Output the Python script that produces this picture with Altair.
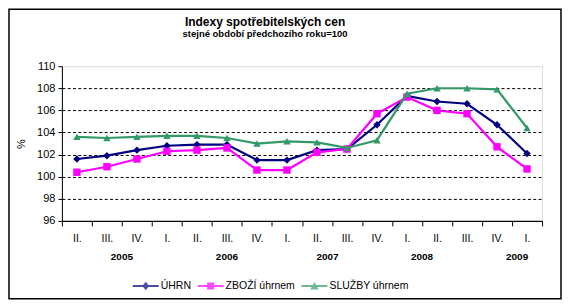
import altair as alt
import pandas as pd

quarters = ["II.", "III.", "IV.", "I.", "II.", "III.", "IV.", "I.",
            "II.", "III.", "IV.", "I.", "II.", "III.", "IV.", "I."]
series_names = ["ÚHRN", "ZBOŽÍ úhrnem", "SLUŽBY úhrnem"]
uhrn = [101.6, 101.9, 102.4, 102.8, 102.9, 102.9, 101.5, 101.5,
        102.4, 102.5, 104.7, 107.3, 106.8, 106.6, 104.7, 102.1]
zbozi = [100.4, 100.9, 101.6, 102.3, 102.4, 102.6, 100.6, 100.6,
         102.2, 102.5, 105.7, 107.2, 106.0, 105.7, 102.7, 100.7]
sluzby = [103.6, 103.5, 103.6, 103.7, 103.7, 103.5, 103.0, 103.2,
          103.1, 102.6, 103.3, 107.5, 108.0, 108.0, 107.9, 104.4]
years = ["2005", "2006", "2007", "2008", "2009"]
year_at = [1.5, 5.0, 8.35, 11.5, 14.67]   # category index under which each year label sits
y_ticks = [96, 98, 100, 102, 104, 106, 108, 110]
grid_ticks = [98, 100, 102, 104, 106, 108]

colors = ["#000080", "#FF00FF", "#339966"]
marker_shapes = ["diamond", "square", "triangle-up"]
legend_paths = [
    "M-1,-0.07H1V0.07H-1Z M0,-0.32L0.26,0L0,0.32L-0.26,0Z",
    "M-1,-0.07H1V0.07H-1Z M-0.27,-0.27H0.27V0.27H-0.27Z",
    "M-1,-0.07H1V0.07H-1Z M0,-0.3L0.32,0.26H-0.32Z",
]

rows = []
for name, vals in zip(series_names, [uhrn, zbozi, sluzby]):
    for i, v in enumerate(vals):
        rows.append({"idx": i, "q": quarters[i], "series": name, "value": v})
df = pd.DataFrame(rows)
ydf = pd.DataFrame({"year": years, "pos": year_at})

FONT = "Liberation Sans, Arial, sans-serif"
W, H = 481, 155

label_expr = "''"
for i in reversed(range(len(quarters))):
    label_expr = f"(round(datum.value) == {i} ? '{quarters[i]}' : {label_expr})"

xscale = alt.Scale(domain=[-0.5, 15.5], nice=False, zero=False)
yscale = alt.Scale(domain=[96, 110], nice=False, zero=False)

# category labels (no ticks) and category-boundary ticks (no labels)
x_labels = alt.Axis(
    values=list(range(len(quarters))), labelExpr=label_expr, orient="bottom",
    grid=False, title=None, ticks=False, domainColor="black", labelPadding=13,
    labelFontSize=10.5, labelFont=FONT, labelColor="black",
    labelFlush=False, labelOverlap=False,
)
x_ticks = alt.Axis(
    values=[i - 0.5 for i in range(len(quarters) + 1)], orient="bottom",
    grid=False, title=None, labels=False, tickSize=5,
    domainColor="black", tickColor="black",
)
y_axis = alt.Axis(
    values=y_ticks, title="%", titleFontSize=11, orient="left",
    titleFontWeight="normal", titleFont=FONT, titleColor="black", titlePadding=10,
    labelFontSize=11, labelFont=FONT, labelColor="black", tickSize=4, labelPadding=3,
    domainColor="black", tickColor="black", grid=False,
)
y_grid = alt.Axis(
    values=grid_ticks, grid=True, labels=False, ticks=False, domain=False, title=None,
    orient="left", gridColor="black", gridDash=[3, 2.3], gridWidth=1,
)

base = alt.Chart(df)

frame = alt.Chart(alt.Data(values=[{"k": 1}])).mark_rect(
    fillOpacity=0, stroke="black", strokeWidth=1.5
).encode(x=alt.value(-53), x2=alt.value(500), y=alt.value(-57), y2=alt.value(233))

layers = [frame]
for k, name in enumerate(series_names):
    sub = base.transform_filter(alt.datum.series == name)
    xa = x_labels if k == 0 else (x_ticks if k == 1 else None)
    ya = y_axis if k == 0 else (y_grid if k == 1 else None)
    line = sub.mark_line(color=colors[k], strokeWidth=2.2).encode(
        x=alt.X("idx:Q", scale=xscale, axis=xa),
        y=alt.Y("value:Q", scale=yscale, axis=ya),
    )
    pts = sub.mark_point(shape=marker_shapes[k], filled=True, color=colors[k],
                         size=55, opacity=1).encode(
        x=alt.X("idx:Q", scale=xscale, axis=None),
        y=alt.Y("value:Q", scale=yscale, axis=None),
    )
    layers += [line, pts]

# invisible (clipped) marks that only carry the legend
legend_layer = base.transform_calculate(hid="datum.value + 100").mark_point(
    filled=True, clip=True
).encode(
    x=alt.X("idx:Q", scale=xscale, axis=None),
    y=alt.Y("hid:Q", scale=yscale, axis=None),
    color=alt.Color("series:N", scale=alt.Scale(domain=series_names, range=colors),
                    legend=alt.Legend(title=None, orient="none", legendX=71, legendY=207,
                                      direction="horizontal", symbolSize=676,
                                      symbolStrokeWidth=0, labelFontSize=10.5,
                                      labelFont=FONT, labelColor="black", labelOffset=2,
                                      columnPadding=6, padding=0)),
    shape=alt.Shape("series:N", scale=alt.Scale(domain=series_names, range=legend_paths)),
)

year_text = alt.Chart(ydf).mark_text(
    fontSize=10, fontWeight="bold", font=FONT, color="black", baseline="middle", align="center"
).encode(
    x=alt.X("pos:Q", scale=xscale, axis=None),
    y=alt.value(191),
    text="year:N",
)

chart = alt.layer(*layers, legend_layer, year_text).resolve_axis(
    x="independent", y="independent"
).properties(
    width=W, height=H,
    autosize=alt.AutoSizeParams(type="none"),
    padding={"left": 54, "top": 58, "right": 20, "bottom": 80},
    title=alt.TitleParams(
        text="Indexy spotřebitelských cen",
        subtitle="stejné období předchozího roku=100",
        fontSize=12, subtitleFontSize=9.5, fontWeight="bold", subtitleFontWeight="bold",
        font=FONT, subtitleFont=FONT, color="black", subtitleColor="black",
        anchor="middle", frame="group", dx=-37, offset=-31, subtitlePadding=0,
    ),
).configure_view(stroke="#808080", strokeWidth=1).configure(background="white")

chart.save("out.html", embed_options={"renderer": "svg", "actions": False})
